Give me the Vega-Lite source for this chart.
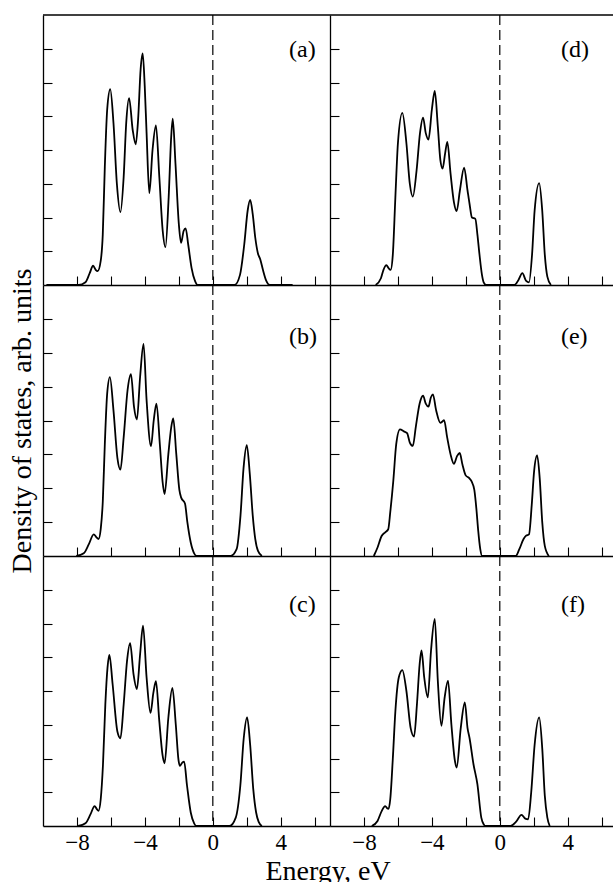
{
"$schema": "https://vega.github.io/schema/vega-lite/v6.json",
"background": "white",
"padding": {"left": 8, "top": 14, "right": 0, "bottom": 0},
"config": {
  "view": {"stroke": null},
  "axis": {"domainColor": "black", "domainWidth": 1.3, "tickColor": "black", "tickWidth": 1.1, "tickSize": -9, "grid": false, "labelFont": "Liberation Serif", "labelFontSize": 23, "labelColor": "black", "labelPadding": 14, "titleFont": "Liberation Serif", "titleFontSize": 28, "titleFontWeight": "normal", "titleColor": "black", "titlePadding": 6, "minExtent": 0},
  "title": {"font": "Liberation Serif", "fontSize": 28, "fontWeight": "normal", "color": "black"}
},
"title": {"text": "Energy, eV", "orient": "bottom", "anchor": "middle", "frame": "bounds", "offset": 4, "dx": 17},
"columns": 2,
"spacing": 0,
"bounds": "flush",
"datasets": {
"labels": [
{"panel": "a", "label": "(a)", "energy": 4.49, "dos": 6.76, "top": 8},
{"panel": "b", "label": "(b)", "energy": 4.49, "dos": 6.25, "top": 8},
{"panel": "c", "label": "(c)", "energy": 4.49, "dos": 6.34, "top": 8},
{"panel": "d", "label": "(d)", "energy": 3.6, "dos": 6.76, "top": 8},
{"panel": "e", "label": "(e)", "energy": 3.6, "dos": 6.25, "top": 8},
{"panel": "f", "label": "(f)", "energy": 3.6, "dos": 6.34, "top": 8}
],
"dos": [
{"panel":"a","energy":-9.8,"dos":0},{"panel":"a","energy":-7.9,"dos":0},{"panel":"a","energy":-7.5,"dos":0.08},{"panel":"a","energy":-7.25,"dos":0.35},{"panel":"a","energy":-7.05,"dos":0.57},{"panel":"a","energy":-6.9,"dos":0.45},{"panel":"a","energy":-6.78,"dos":0.41},{"panel":"a","energy":-6.6,"dos":0.72},{"panel":"a","energy":-6.48,"dos":1.5},{"panel":"a","energy":-6.36,"dos":3.5},{"panel":"a","energy":-6.22,"dos":5.2},{"panel":"a","energy":-6.04,"dos":5.8},{"panel":"a","energy":-5.85,"dos":4.8},{"panel":"a","energy":-5.65,"dos":3.0},{"panel":"a","energy":-5.44,"dos":2.16},{"panel":"a","energy":-5.25,"dos":3.2},{"panel":"a","energy":-5.1,"dos":4.8},{"panel":"a","energy":-4.93,"dos":5.54},{"panel":"a","energy":-4.72,"dos":4.6},{"panel":"a","energy":-4.54,"dos":4.17},{"panel":"a","energy":-4.4,"dos":4.9},{"panel":"a","energy":-4.25,"dos":6.4},{"panel":"a","energy":-4.13,"dos":6.86},{"panel":"a","energy":-4.01,"dos":5.9},{"panel":"a","energy":-3.9,"dos":4.5},{"panel":"a","energy":-3.74,"dos":2.72},{"panel":"a","energy":-3.55,"dos":4.0},{"panel":"a","energy":-3.35,"dos":4.73},{"panel":"a","energy":-3.15,"dos":3.2},{"panel":"a","energy":-2.95,"dos":1.6},{"panel":"a","energy":-2.79,"dos":1.12},{"panel":"a","energy":-2.6,"dos":2.6},{"panel":"a","energy":-2.45,"dos":4.4},{"panel":"a","energy":-2.36,"dos":4.93},{"panel":"a","energy":-2.2,"dos":3.6},{"panel":"a","energy":-2.0,"dos":1.8},{"panel":"a","energy":-1.87,"dos":1.25},{"panel":"a","energy":-1.72,"dos":1.6},{"panel":"a","energy":-1.6,"dos":1.68},{"panel":"a","energy":-1.45,"dos":1.2},{"panel":"a","energy":-1.25,"dos":0.5},{"panel":"a","energy":-1.05,"dos":0.12},{"panel":"a","energy":-0.9,"dos":0},{"panel":"a","energy":1.28,"dos":0},{"panel":"a","energy":1.6,"dos":0.3},{"panel":"a","energy":1.85,"dos":1.2},{"panel":"a","energy":2.05,"dos":2.2},{"panel":"a","energy":2.2,"dos":2.52},{"panel":"a","energy":2.35,"dos":2.1},{"panel":"a","energy":2.5,"dos":1.4},{"panel":"a","energy":2.65,"dos":0.95},{"panel":"a","energy":2.8,"dos":0.75},{"panel":"a","energy":2.95,"dos":0.45},{"panel":"a","energy":3.15,"dos":0.12},{"panel":"a","energy":3.35,"dos":0},{"panel":"a","energy":4.7,"dos":0},

{"panel":"b","energy":-8.04,"dos":0},{"panel":"b","energy":-7.6,"dos":0.08},{"panel":"b","energy":-7.3,"dos":0.35},{"panel":"b","energy":-7.01,"dos":0.64},{"panel":"b","energy":-6.85,"dos":0.55},{"panel":"b","energy":-6.73,"dos":0.5},{"panel":"b","energy":-6.6,"dos":0.8},{"panel":"b","energy":-6.48,"dos":1.6},{"panel":"b","energy":-6.36,"dos":3.3},{"panel":"b","energy":-6.22,"dos":4.8},{"panel":"b","energy":-6.06,"dos":5.28},{"panel":"b","energy":-5.85,"dos":4.3},{"panel":"b","energy":-5.62,"dos":2.9},{"panel":"b","energy":-5.44,"dos":2.55},{"panel":"b","energy":-5.25,"dos":3.5},{"panel":"b","energy":-5.02,"dos":4.9},{"panel":"b","energy":-4.82,"dos":5.37},{"panel":"b","energy":-4.64,"dos":4.4},{"panel":"b","energy":-4.47,"dos":4.03},{"panel":"b","energy":-4.28,"dos":5.3},{"panel":"b","energy":-4.08,"dos":6.26},{"panel":"b","energy":-3.9,"dos":4.6},{"panel":"b","energy":-3.64,"dos":3.24},{"panel":"b","energy":-3.48,"dos":4.0},{"panel":"b","energy":-3.32,"dos":4.5},{"panel":"b","energy":-3.12,"dos":3.3},{"panel":"b","energy":-2.96,"dos":2.2},{"panel":"b","energy":-2.84,"dos":1.83},{"panel":"b","energy":-2.62,"dos":3.0},{"panel":"b","energy":-2.45,"dos":3.8},{"panel":"b","energy":-2.33,"dos":4.06},{"panel":"b","energy":-2.15,"dos":3.0},{"panel":"b","energy":-1.97,"dos":1.95},{"panel":"b","energy":-1.87,"dos":1.73},{"panel":"b","energy":-1.64,"dos":1.55},{"panel":"b","energy":-1.5,"dos":1.0},{"panel":"b","energy":-1.3,"dos":0.4},{"panel":"b","energy":-1.1,"dos":0.08},{"panel":"b","energy":-0.95,"dos":0},{"panel":"b","energy":1.05,"dos":0},{"panel":"b","energy":1.4,"dos":0.2},{"panel":"b","energy":1.63,"dos":1.2},{"panel":"b","energy":1.81,"dos":2.6},{"panel":"b","energy":2.0,"dos":3.27},{"panel":"b","energy":2.18,"dos":2.4},{"panel":"b","energy":2.35,"dos":1.2},{"panel":"b","energy":2.5,"dos":0.5},{"panel":"b","energy":2.66,"dos":0.15},{"panel":"b","energy":2.89,"dos":0},

{"panel":"c","energy":-7.93,"dos":0},{"panel":"c","energy":-7.5,"dos":0.08},{"panel":"c","energy":-7.2,"dos":0.35},{"panel":"c","energy":-6.96,"dos":0.59},{"panel":"c","energy":-6.83,"dos":0.5},{"panel":"c","energy":-6.73,"dos":0.45},{"panel":"c","energy":-6.6,"dos":0.8},{"panel":"c","energy":-6.47,"dos":1.8},{"panel":"c","energy":-6.33,"dos":3.6},{"panel":"c","energy":-6.2,"dos":4.7},{"panel":"c","energy":-6.09,"dos":5.07},{"panel":"c","energy":-5.9,"dos":4.2},{"panel":"c","energy":-5.62,"dos":2.8},{"panel":"c","energy":-5.44,"dos":2.6},{"panel":"c","energy":-5.25,"dos":3.6},{"panel":"c","energy":-5.05,"dos":4.9},{"panel":"c","energy":-4.87,"dos":5.42},{"panel":"c","energy":-4.67,"dos":4.5},{"panel":"c","energy":-4.47,"dos":4.06},{"panel":"c","energy":-4.28,"dos":5.1},{"panel":"c","energy":-4.11,"dos":5.94},{"panel":"c","energy":-3.9,"dos":4.4},{"panel":"c","energy":-3.67,"dos":3.35},{"panel":"c","energy":-3.5,"dos":3.95},{"panel":"c","energy":-3.35,"dos":4.29},{"panel":"c","energy":-3.15,"dos":3.1},{"panel":"c","energy":-2.96,"dos":2.1},{"panel":"c","energy":-2.84,"dos":1.86},{"panel":"c","energy":-2.62,"dos":3.2},{"panel":"c","energy":-2.38,"dos":4.09},{"panel":"c","energy":-2.18,"dos":3.0},{"panel":"c","energy":-2.02,"dos":1.95},{"panel":"c","energy":-1.94,"dos":1.78},{"panel":"c","energy":-1.8,"dos":1.88},{"panel":"c","energy":-1.69,"dos":1.91},{"panel":"c","energy":-1.52,"dos":1.2},{"panel":"c","energy":-1.3,"dos":0.4},{"panel":"c","energy":-1.1,"dos":0.08},{"panel":"c","energy":-0.97,"dos":0},{"panel":"c","energy":0.98,"dos":0},{"panel":"c","energy":1.35,"dos":0.25},{"panel":"c","energy":1.62,"dos":1.2},{"panel":"c","energy":1.82,"dos":2.6},{"panel":"c","energy":2.02,"dos":3.22},{"panel":"c","energy":2.2,"dos":2.4},{"panel":"c","energy":2.38,"dos":1.1},{"panel":"c","energy":2.55,"dos":0.4},{"panel":"c","energy":2.7,"dos":0.12},{"panel":"c","energy":2.89,"dos":0},

{"panel":"d","energy":-7.31,"dos":0},{"panel":"d","energy":-7.0,"dos":0.2},{"panel":"d","energy":-6.85,"dos":0.45},{"panel":"d","energy":-6.68,"dos":0.59},{"panel":"d","energy":-6.55,"dos":0.5},{"panel":"d","energy":-6.43,"dos":0.45},{"panel":"d","energy":-6.3,"dos":0.9},{"panel":"d","energy":-6.15,"dos":2.6},{"panel":"d","energy":-6.0,"dos":4.2},{"panel":"d","energy":-5.74,"dos":5.1},{"panel":"d","energy":-5.5,"dos":4.2},{"panel":"d","energy":-5.3,"dos":3.0},{"panel":"d","energy":-5.12,"dos":2.62},{"panel":"d","energy":-4.9,"dos":3.4},{"panel":"d","energy":-4.7,"dos":4.5},{"panel":"d","energy":-4.52,"dos":4.96},{"panel":"d","energy":-4.36,"dos":4.5},{"panel":"d","energy":-4.2,"dos":4.31},{"panel":"d","energy":-4.0,"dos":5.2},{"panel":"d","energy":-3.83,"dos":5.75},{"panel":"d","energy":-3.65,"dos":4.7},{"panel":"d","energy":-3.5,"dos":3.7},{"panel":"d","energy":-3.37,"dos":3.45},{"panel":"d","energy":-3.22,"dos":3.9},{"panel":"d","energy":-3.09,"dos":4.24},{"panel":"d","energy":-2.9,"dos":3.3},{"panel":"d","energy":-2.7,"dos":2.45},{"panel":"d","energy":-2.54,"dos":2.19},{"panel":"d","energy":-2.35,"dos":2.8},{"panel":"d","energy":-2.1,"dos":3.48},{"panel":"d","energy":-1.9,"dos":2.8},{"panel":"d","energy":-1.78,"dos":2.4},{"panel":"d","energy":-1.64,"dos":2.0},{"panel":"d","energy":-1.44,"dos":1.96},{"panel":"d","energy":-1.32,"dos":1.5},{"panel":"d","energy":-1.2,"dos":0.92},{"panel":"d","energy":-1.05,"dos":0.3},{"panel":"d","energy":-0.95,"dos":0.08},{"panel":"d","energy":-0.81,"dos":0},{"panel":"d","energy":0.87,"dos":0},{"panel":"d","energy":1.1,"dos":0.15},{"panel":"d","energy":1.33,"dos":0.35},{"panel":"d","energy":1.55,"dos":0.12},{"panel":"d","energy":1.72,"dos":0.08},{"panel":"d","energy":1.9,"dos":0.9},{"panel":"d","energy":2.05,"dos":2.2},{"panel":"d","energy":2.32,"dos":3.02},{"panel":"d","energy":2.5,"dos":2.2},{"panel":"d","energy":2.65,"dos":0.9},{"panel":"d","energy":2.8,"dos":0.25},{"panel":"d","energy":3.01,"dos":0},

{"panel":"e","energy":-7.42,"dos":0},{"panel":"e","energy":-7.2,"dos":0.25},{"panel":"e","energy":-6.96,"dos":0.59},{"panel":"e","energy":-6.75,"dos":0.7},{"panel":"e","energy":-6.57,"dos":0.79},{"panel":"e","energy":-6.45,"dos":1.3},{"panel":"e","energy":-6.27,"dos":2.23},{"panel":"e","energy":-6.1,"dos":3.3},{"panel":"e","energy":-5.88,"dos":3.74},{"panel":"e","energy":-5.65,"dos":3.68},{"panel":"e","energy":-5.46,"dos":3.63},{"panel":"e","energy":-5.3,"dos":3.35},{"panel":"e","energy":-5.12,"dos":3.25},{"panel":"e","energy":-4.95,"dos":3.8},{"panel":"e","energy":-4.72,"dos":4.5},{"panel":"e","energy":-4.52,"dos":4.73},{"panel":"e","energy":-4.36,"dos":4.5},{"panel":"e","energy":-4.2,"dos":4.41},{"panel":"e","energy":-4.06,"dos":4.68},{"panel":"e","energy":-3.94,"dos":4.77},{"panel":"e","energy":-3.75,"dos":4.3},{"panel":"e","energy":-3.5,"dos":3.93},{"panel":"e","energy":-3.38,"dos":3.97},{"panel":"e","energy":-3.28,"dos":4.01},{"panel":"e","energy":-3.1,"dos":3.5},{"panel":"e","energy":-2.9,"dos":3.0},{"panel":"e","energy":-2.7,"dos":2.72},{"panel":"e","energy":-2.52,"dos":2.95},{"panel":"e","energy":-2.36,"dos":3.04},{"panel":"e","energy":-2.2,"dos":2.7},{"panel":"e","energy":-2.01,"dos":2.38},{"panel":"e","energy":-1.8,"dos":2.3},{"panel":"e","energy":-1.66,"dos":2.2},{"panel":"e","energy":-1.5,"dos":1.95},{"panel":"e","energy":-1.38,"dos":1.4},{"panel":"e","energy":-1.27,"dos":0.74},{"panel":"e","energy":-1.15,"dos":0.2},{"panel":"e","energy":-1.04,"dos":0},{"panel":"e","energy":0.94,"dos":0},{"panel":"e","energy":1.15,"dos":0.2},{"panel":"e","energy":1.4,"dos":0.5},{"panel":"e","energy":1.55,"dos":0.6},{"panel":"e","energy":1.72,"dos":0.64},{"panel":"e","energy":1.88,"dos":1.5},{"panel":"e","energy":2.02,"dos":2.5},{"panel":"e","energy":2.2,"dos":2.97},{"panel":"e","energy":2.35,"dos":2.3},{"panel":"e","energy":2.5,"dos":1.0},{"panel":"e","energy":2.65,"dos":0.3},{"panel":"e","energy":2.89,"dos":0},

{"panel":"f","energy":-7.54,"dos":0},{"panel":"f","energy":-7.2,"dos":0.15},{"panel":"f","energy":-6.95,"dos":0.45},{"panel":"f","energy":-6.75,"dos":0.59},{"panel":"f","energy":-6.62,"dos":0.52},{"panel":"f","energy":-6.55,"dos":0.51},{"panel":"f","energy":-6.45,"dos":0.8},{"panel":"f","energy":-6.3,"dos":2.0},{"panel":"f","energy":-6.15,"dos":3.4},{"panel":"f","energy":-5.95,"dos":4.4},{"panel":"f","energy":-5.74,"dos":4.62},{"panel":"f","energy":-5.5,"dos":4.0},{"panel":"f","energy":-5.25,"dos":2.9},{"panel":"f","energy":-5.05,"dos":2.65},{"panel":"f","energy":-4.88,"dos":3.6},{"panel":"f","energy":-4.72,"dos":4.8},{"panel":"f","energy":-4.61,"dos":5.2},{"panel":"f","energy":-4.45,"dos":4.4},{"panel":"f","energy":-4.24,"dos":3.81},{"panel":"f","energy":-4.05,"dos":5.2},{"panel":"f","energy":-3.83,"dos":6.14},{"panel":"f","energy":-3.65,"dos":4.3},{"panel":"f","energy":-3.44,"dos":2.97},{"panel":"f","energy":-3.25,"dos":3.8},{"panel":"f","energy":-3.05,"dos":4.31},{"panel":"f","energy":-2.85,"dos":3.0},{"panel":"f","energy":-2.65,"dos":1.95},{"panel":"f","energy":-2.54,"dos":1.73},{"panel":"f","energy":-2.3,"dos":2.9},{"panel":"f","energy":-2.06,"dos":3.66},{"panel":"f","energy":-1.9,"dos":2.9},{"panel":"f","energy":-1.78,"dos":2.6},{"panel":"f","energy":-1.55,"dos":1.83},{"panel":"f","energy":-1.32,"dos":1.24},{"panel":"f","energy":-1.09,"dos":0.25},{"panel":"f","energy":-0.95,"dos":0.05},{"panel":"f","energy":-0.86,"dos":0},{"panel":"f","energy":0.64,"dos":0},{"panel":"f","energy":0.95,"dos":0.12},{"panel":"f","energy":1.28,"dos":0.33},{"panel":"f","energy":1.5,"dos":0.22},{"panel":"f","energy":1.67,"dos":0.2},{"panel":"f","energy":1.85,"dos":1.0},{"panel":"f","energy":2.05,"dos":2.4},{"panel":"f","energy":2.32,"dos":3.22},{"panel":"f","energy":2.5,"dos":2.3},{"panel":"f","energy":2.65,"dos":0.9},{"panel":"f","energy":2.8,"dos":0.25},{"panel":"f","energy":2.94,"dos":0}
]
},
"concat": [
  {"width": 287, "height": 270, "layer": [
    {"data": {"name": "dos"}, "transform": [{"filter": "datum.panel === 'a'"}], "mark": {"type": "line", "interpolate": "monotone", "color": "black", "strokeWidth": 1.8},
     "encoding": {"x": {"field": "energy", "type": "quantitative", "scale": {"domain": [-10, 6.9], "nice": false}, "axis": {"values": [-8,-6,-4,-2,0,2,4,6], "labels": false, "title": null}},
                  "y": {"field": "dos", "type": "quantitative", "scale": {"domain": [0, 8], "nice": false}, "axis": {"values": [1,2,3,4,5,6,7], "labels": false, "title": null}}}},
    {"data": {"name": "labels"}, "transform": [{"filter": "datum.panel === 'a'"}], "mark": {"type": "rule", "color": "black", "strokeWidth": 1.2, "strokeDash": [10, 5]},
     "encoding": {"x": {"datum": 0}}},
    {"data": {"name": "labels"}, "transform": [{"filter": "datum.panel === 'a'"}], "mark": {"type": "rule", "color": "black", "strokeWidth": 1.3},
     "encoding": {"y": {"field": "top", "type": "quantitative"}}},
    {"data": {"name": "labels"}, "transform": [{"filter": "datum.panel === 'a'"}], "mark": {"type": "text", "align": "left", "baseline": "alphabetic", "font": "Liberation Serif", "fontSize": 24, "color": "black"},
     "encoding": {"x": {"field": "energy", "type": "quantitative"}, "y": {"field": "dos", "type": "quantitative"}, "text": {"field": "label"}}}
  ]},
  {"width": 283, "height": 270, "layer": [
    {"data": {"name": "dos"}, "transform": [{"filter": "datum.panel === 'd'"}], "mark": {"type": "line", "interpolate": "monotone", "color": "black", "strokeWidth": 1.8},
     "encoding": {"x": {"field": "energy", "type": "quantitative", "scale": {"domain": [-10, 6.667], "nice": false}, "axis": {"values": [-8,-6,-4,-2,0,2,4,6], "labels": false, "title": null}},
                  "y": {"field": "dos", "type": "quantitative", "scale": {"domain": [0, 8], "nice": false}, "axis": {"values": [1,2,3,4,5,6,7], "labels": false, "title": null}}}},
    {"data": {"name": "labels"}, "transform": [{"filter": "datum.panel === 'd'"}], "mark": {"type": "rule", "color": "black", "strokeWidth": 1.2, "strokeDash": [10, 5]},
     "encoding": {"x": {"datum": 0}}},
    {"data": {"name": "labels"}, "transform": [{"filter": "datum.panel === 'd'"}], "mark": {"type": "rule", "color": "black", "strokeWidth": 1.3},
     "encoding": {"y": {"field": "top", "type": "quantitative"}}},
    {"data": {"name": "labels"}, "transform": [{"filter": "datum.panel === 'd'"}], "mark": {"type": "text", "align": "left", "baseline": "alphabetic", "font": "Liberation Serif", "fontSize": 24, "color": "black"},
     "encoding": {"x": {"field": "energy", "type": "quantitative"}, "y": {"field": "dos", "type": "quantitative"}, "text": {"field": "label"}}}
  ]},
  {"width": 287, "height": 271, "layer": [
    {"data": {"name": "dos"}, "transform": [{"filter": "datum.panel === 'b'"}], "mark": {"type": "line", "interpolate": "monotone", "color": "black", "strokeWidth": 1.8},
     "encoding": {"x": {"field": "energy", "type": "quantitative", "scale": {"domain": [-10, 6.9], "nice": false}, "axis": {"values": [-8,-6,-4,-2,0,2,4,6], "labels": false, "title": null}},
                  "y": {"field": "dos", "type": "quantitative", "scale": {"domain": [0, 8], "nice": false}, "axis": {"values": [1,2,3,4,5,6,7], "labels": false, "title": "Density of states, arb. units"}}}},
    {"data": {"name": "labels"}, "transform": [{"filter": "datum.panel === 'b'"}], "mark": {"type": "rule", "color": "black", "strokeWidth": 1.2, "strokeDash": [10, 5]},
     "encoding": {"x": {"datum": 0}}},
    {"data": {"name": "labels"}, "transform": [{"filter": "datum.panel === 'b'"}], "mark": {"type": "text", "align": "left", "baseline": "alphabetic", "font": "Liberation Serif", "fontSize": 24, "color": "black"},
     "encoding": {"x": {"field": "energy", "type": "quantitative"}, "y": {"field": "dos", "type": "quantitative"}, "text": {"field": "label"}}}
  ]},
  {"width": 283, "height": 271, "layer": [
    {"data": {"name": "dos"}, "transform": [{"filter": "datum.panel === 'e'"}], "mark": {"type": "line", "interpolate": "monotone", "color": "black", "strokeWidth": 1.8},
     "encoding": {"x": {"field": "energy", "type": "quantitative", "scale": {"domain": [-10, 6.667], "nice": false}, "axis": {"values": [-8,-6,-4,-2,0,2,4,6], "labels": false, "title": null}},
                  "y": {"field": "dos", "type": "quantitative", "scale": {"domain": [0, 8], "nice": false}, "axis": {"values": [1,2,3,4,5,6,7], "labels": false, "title": null}}}},
    {"data": {"name": "labels"}, "transform": [{"filter": "datum.panel === 'e'"}], "mark": {"type": "rule", "color": "black", "strokeWidth": 1.2, "strokeDash": [10, 5]},
     "encoding": {"x": {"datum": 0}}},
    {"data": {"name": "labels"}, "transform": [{"filter": "datum.panel === 'e'"}], "mark": {"type": "text", "align": "left", "baseline": "alphabetic", "font": "Liberation Serif", "fontSize": 24, "color": "black"},
     "encoding": {"x": {"field": "energy", "type": "quantitative"}, "y": {"field": "dos", "type": "quantitative"}, "text": {"field": "label"}}}
  ]},
  {"width": 287, "height": 270, "layer": [
    {"data": {"name": "dos"}, "transform": [{"filter": "datum.panel === 'c'"}], "mark": {"type": "line", "interpolate": "monotone", "color": "black", "strokeWidth": 1.8},
     "encoding": {"x": {"field": "energy", "type": "quantitative", "scale": {"domain": [-10, 6.9], "nice": false}, "axis": {"values": [-8,-6,-4,-2,0,2,4,6], "labelExpr": "datum.value % 4 === 0 ? datum.label : ''", "title": null}},
                  "y": {"field": "dos", "type": "quantitative", "scale": {"domain": [0, 8], "nice": false}, "axis": {"values": [1,2,3,4,5,6,7], "labels": false, "title": null}}}},
    {"data": {"name": "labels"}, "transform": [{"filter": "datum.panel === 'c'"}], "mark": {"type": "rule", "color": "black", "strokeWidth": 1.2, "strokeDash": [10, 5]},
     "encoding": {"x": {"datum": 0}}},
    {"data": {"name": "labels"}, "transform": [{"filter": "datum.panel === 'c'"}], "mark": {"type": "text", "align": "left", "baseline": "alphabetic", "font": "Liberation Serif", "fontSize": 24, "color": "black"},
     "encoding": {"x": {"field": "energy", "type": "quantitative"}, "y": {"field": "dos", "type": "quantitative"}, "text": {"field": "label"}}}
  ]},
  {"width": 283, "height": 270, "layer": [
    {"data": {"name": "dos"}, "transform": [{"filter": "datum.panel === 'f'"}], "mark": {"type": "line", "interpolate": "monotone", "color": "black", "strokeWidth": 1.8},
     "encoding": {"x": {"field": "energy", "type": "quantitative", "scale": {"domain": [-10, 6.667], "nice": false}, "axis": {"values": [-8,-6,-4,-2,0,2,4,6], "labelExpr": "datum.value % 4 === 0 ? datum.label : ''", "title": null}},
                  "y": {"field": "dos", "type": "quantitative", "scale": {"domain": [0, 8], "nice": false}, "axis": {"values": [1,2,3,4,5,6,7], "labels": false, "title": null}}}},
    {"data": {"name": "labels"}, "transform": [{"filter": "datum.panel === 'f'"}], "mark": {"type": "rule", "color": "black", "strokeWidth": 1.2, "strokeDash": [10, 5]},
     "encoding": {"x": {"datum": 0}}},
    {"data": {"name": "labels"}, "transform": [{"filter": "datum.panel === 'f'"}], "mark": {"type": "text", "align": "left", "baseline": "alphabetic", "font": "Liberation Serif", "fontSize": 24, "color": "black"},
     "encoding": {"x": {"field": "energy", "type": "quantitative"}, "y": {"field": "dos", "type": "quantitative"}, "text": {"field": "label"}}}
  ]}
]
}
